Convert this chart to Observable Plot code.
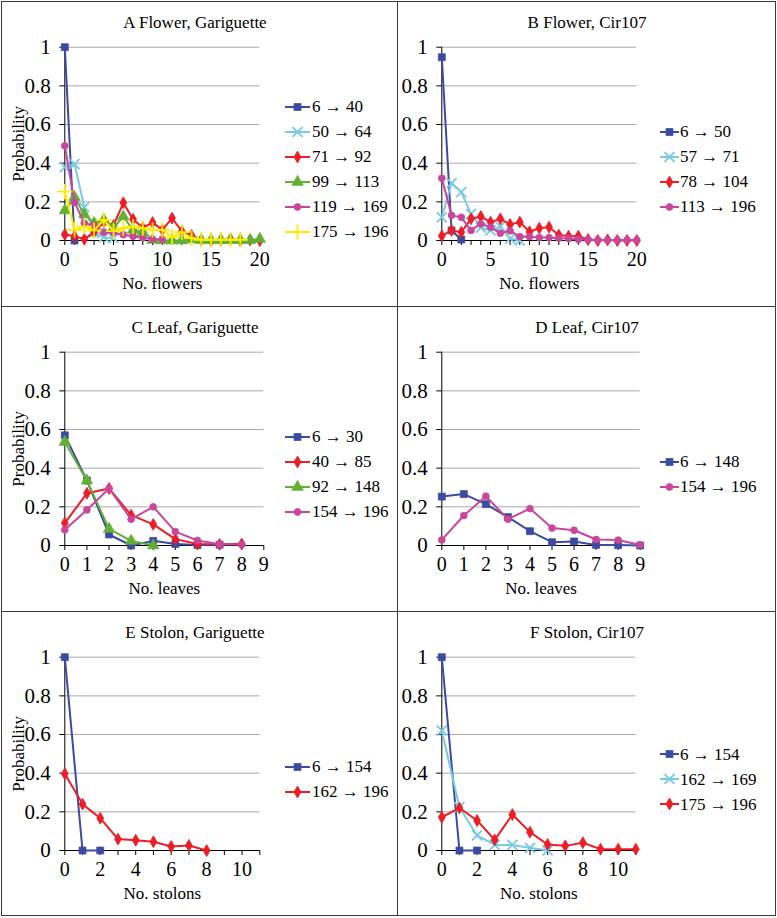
<!DOCTYPE html>
<html>
<head>
<meta charset="utf-8">
<script src="https://cdn.jsdelivr.net/npm/d3@7"></script>
<script src="https://cdn.jsdelivr.net/npm/@observablehq/plot@0.6"></script>
<style>
  html, body { margin: 0; padding: 0; background: #fff; }
  #page { position: relative; width: 777px; height: 918px; background: #fff; font-family: "Liberation Serif", "Times New Roman", serif; color: #000; }
  .bline { position: absolute; background: #3a3a3a; }
  .title { position: absolute; font-size: 17px; line-height: 1; white-space: nowrap; transform: translate(-50%, -50%); }
  .leg { position: absolute; display: flex; align-items: center; height: 18px; font-size: 17px; line-height: 1; white-space: nowrap; transform: translateY(-50%); }
  .leg svg { display: block; overflow: visible; }
  .chart { position: absolute; }
</style>
</head>
<body>
<div id="page"></div>
<script>
// ---------------- DATA ----------------
const yTicks = [0, 0.2, 0.4, 0.6, 0.8, 1];
const yGrid = [0.2, 0.4, 0.6, 0.8, 1];

const flowerLabelTicks = [0, 5, 10, 15, 20];
const leafLabelTicks = [0, 1, 2, 3, 4, 5, 6, 7, 8, 9];
const stolonLabelTicks = [0, 2, 4, 6, 8, 10];

// A Flower, Gariguette
const aLabels = ["6 → 40", "50 → 64", "71 → 92", "99 → 113", "119 → 169", "175 → 196"];
const aKinds = ["blue", "cyan", "red", "green", "magenta", "yellow"];
const aValues = [
  [1, 0],
  [0.38, 0.395, 0.172, 0.04, 0.017, 0.012],
  [0.031, 0.022, 0.007, 0.043, 0.095, 0.078, 0.195, 0.11, 0.066, 0.093, 0.055, 0.116, 0.048, 0.026, 0.003, 0, 0.003, 0.008, 0, 0.003, 0],
  [0.155, 0.224, 0.134, 0.09, 0.107, 0.066, 0.124, 0.055, 0.043, 0.003, 0, 0, 0, 0.005, 0.002, 0.002, 0.002, 0.002, 0.002, 0.002, 0.008],
  [0.49, 0.198, 0.09, 0.078, 0.043, 0.04, 0.03, 0.022, 0.014, 0.007, 0.007],
  [0.253, 0.055, 0.072, 0.052, 0.107, 0.048, 0.064, 0.072, 0.064, 0.055, 0.055, 0.017, 0.043, 0.012, 0.004, 0.004, 0.004, 0.004, 0.004]
];

// B Flower, Cir107
const bLabels = ["6 → 50", "57 → 71", "78 → 104", "113 → 196"];
const bKinds = ["blue", "cyan", "red", "magenta"];
const bValues = [
  [0.948, 0.052, 0.005],
  [0.12, 0.297, 0.25, 0.138, 0.066, 0.052, 0.072, 0.01, 0],
  [0.024, 0.052, 0.043, 0.112, 0.124, 0.095, 0.112, 0.083, 0.095, 0.045, 0.064, 0.069, 0.028, 0.022, 0.022, 0.005, 0, 0.003, 0, 0, 0],
  [0.322, 0.13, 0.12, 0.052, 0.086, 0.069, 0.038, 0.05, 0.02, 0.02, 0.015, 0.015, 0.012, 0.01, 0.005, 0.005, 0.002, 0.002, 0.002, 0.002, 0.002]
];

// C Leaf, Gariguette
const cLabels = ["6 → 30", "40 → 85", "92 → 148", "154 → 196"];
const cKinds = ["blue", "red", "green", "magenta"];
const cValues = [
  [0.57, 0.336, 0.057, 0, 0.024, 0.008, 0.002, 0.004],
  [0.116, 0.27, 0.295, 0.157, 0.109, 0.033, 0.008, 0.006, 0.008],
  [0.535, 0.336, 0.086, 0.024, 0],
  [0.081, 0.184, 0.295, 0.136, 0.2, 0.072, 0.026, 0.006, 0.005]
];

// D Leaf, Cir107
const dLabels = ["6 → 148", "154 → 196"];
const dKinds = ["blue", "magenta"];
const dValues = [
  [0.253, 0.266, 0.214, 0.147, 0.074, 0.017, 0.021, 0.003, 0.002, 0],
  [0.029, 0.155, 0.255, 0.136, 0.191, 0.09, 0.079, 0.031, 0.028, 0.003]
];

// E Stolon, Gariguette
const eLabels = ["6 → 154", "162 → 196"];
const eKinds = ["blue", "red"];
const eValues = [
  [1, 0, 0],
  [0.397, 0.24, 0.167, 0.059, 0.053, 0.045, 0.021, 0.026, 0]
];

// F Stolon, Cir107
const fLabels = ["6 → 154", "162 → 169", "175 → 196"];
const fKinds = ["blue", "cyan", "red"];
const fValues = [
  [1, 0, 0],
  [0.62, 0.224, 0.078, 0.029, 0.029, 0.014, 0],
  [0.172, 0.22, 0.155, 0.055, 0.186, 0.095, 0.031, 0.024, 0.04, 0.007, 0.007, 0.007]
];

// ---------------- STYLE / LAYOUT ----------------
const kindStyle = {
  blue:    {color: "#3C4BA2", symbol: "square",   d3sym: d3.symbolSquare,   r: 3.9, filled: true},
  cyan:    {color: "#78C9E4", symbol: "times",    d3sym: d3.symbolTimes,    r: 4.6, filled: false},
  red:     {color: "#EE1C25", symbol: "diamond",  d3sym: d3.symbolDiamond,  r: 3.6, filled: true},
  green:   {color: "#62B033", symbol: "triangle", d3sym: d3.symbolTriangle, r: 4.2, filled: true},
  magenta: {color: "#C9479B", symbol: "circle",   d3sym: d3.symbolCircle,   r: 3.4, filled: true},
  yellow:  {color: "#FFEC00", symbol: "plus",     d3sym: d3.symbolPlus,     r: 5.0, filled: false}
};

const panels = [
  {title: "A Flower, Gariguette", labels: aLabels, kinds: aKinds, values: aValues, xMax: 20, xLabelTicks: flowerLabelTicks, xLabel: "No. flowers", side: "left", row: 0, plotRight: 259.3},
  {title: "B Flower, Cir107", labels: bLabels, kinds: bKinds, values: bValues, xMax: 20, xLabelTicks: flowerLabelTicks, xLabel: "No. flowers", side: "right", row: 0, plotRight: 636.3},
  {title: "C Leaf, Gariguette", labels: cLabels, kinds: cKinds, values: cValues, xMax: 9, xLabelTicks: leafLabelTicks, xLabel: "No. leaves", side: "left", row: 1, plotRight: 263.3},
  {title: "D Leaf, Cir107", labels: dLabels, kinds: dKinds, values: dValues, xMax: 9, xLabelTicks: leafLabelTicks, xLabel: "No. leaves", side: "right", row: 1, plotRight: 639.7},
  {title: "E Stolon, Gariguette", labels: eLabels, kinds: eKinds, values: eValues, xMax: 11, xLabelTicks: stolonLabelTicks, xLabel: "No. stolons", side: "left", row: 2, plotRight: 259.3},
  {title: "F Stolon, Cir107", labels: fLabels, kinds: fKinds, values: fValues, xMax: 11, xLabelTicks: stolonLabelTicks, xLabel: "No. stolons", side: "right", row: 2, plotRight: 635.3}
];

const page = document.getElementById("page");
const ROW_H = 305;
const Y_TICK_FONT = 21;
const X_TICK_FONT = 20;
const SERIF = "'Liberation Serif', 'Times New Roman', serif";
const sideCfg = {
  left:  {svgLeft: 0,   svgWidth: 397, plotLeft: 64.3,  titleX: 195, legLineX: 285, legLineW: 25, legTextGap: 2},
  right: {svgLeft: 397, svgWidth: 378, plotLeft: 441.3, titleX: 587, legLineX: 660, legLineW: 19, legTextGap: 1}
};

// borders
function bline(x, y, w, h) {
  const d = document.createElement("div");
  d.className = "bline";
  Object.assign(d.style, {left: x + "px", top: y + "px", width: w + "px", height: h + "px"});
  page.appendChild(d);
}
bline(1, 1, 775, 1);
bline(1, 915, 775, 1);
bline(1, 1, 1, 915);
bline(775, 1, 1, 915);
bline(397, 1, 1, 915);
bline(1, 306, 775, 1);
bline(1, 611, 775, 1);

function makePlot(p) {
  const s = sideCfg[p.side];
  const marks = [
    Plot.ruleY(yGrid, {stroke: "#a9a9a9", strokeWidth: 1}),
    Plot.axisY({ticks: yTicks, tickSize: 5, tickFormat: () => "", label: null}),
    Plot.axisX({ticks: d3.range(0, p.xMax + 1), tickSize: 5, tickFormat: () => "", label: null}),
    Plot.text(yTicks, {y: d => d, text: d => String(d), frameAnchor: "left", dx: -14, textAnchor: "end", lineAnchor: "middle", fontSize: Y_TICK_FONT, ariaLabel: "ytick-text"}),
    Plot.text(p.xLabelTicks, {x: d => d, text: d => String(d), frameAnchor: "bottom", dy: 19.5, textAnchor: "middle", lineAnchor: "middle", fontSize: X_TICK_FONT, ariaLabel: "xtick-text"}),
    Plot.ruleX([0], {stroke: "#000", strokeWidth: 1}),
    Plot.ruleY([0], {stroke: "#000", strokeWidth: 1}),
    Plot.text([p.xLabel], {text: d => d, frameAnchor: "bottom", dy: 43.3, lineAnchor: "middle", textAnchor: "middle", fontSize: 17})
  ];
  if (p.side === "left") {
    marks.push(Plot.text(["Probability"], {text: d => d, frameAnchor: "left", rotate: -90, dx: -46.3, lineAnchor: "middle", textAnchor: "middle", fontSize: 17}));
  }
  p.values.forEach((vals, i) => {
    const st = kindStyle[p.kinds[i]];
    const pts = vals.map((v, x) => ({x, y: v}));
    marks.push(Plot.line(pts, {x: "x", y: "y", stroke: st.color, strokeWidth: 2, curve: "linear"}));
    if (st.filled) {
      marks.push(Plot.dot(pts, {x: "x", y: "y", symbol: st.symbol, r: st.r, fill: st.color, stroke: st.color, strokeWidth: 0.8}));
    } else {
      marks.push(Plot.dot(pts, {x: "x", y: "y", symbol: st.symbol, r: st.r, stroke: st.color, strokeWidth: 1.8, fill: "none"}));
    }
  });
  const svg = Plot.plot({
    width: s.svgWidth,
    height: ROW_H,
    marginLeft: s.plotLeft - s.svgLeft,
    marginRight: s.svgLeft + s.svgWidth - p.plotRight,
    marginTop: 46.7,
    marginBottom: 65,
    x: {domain: [0, p.xMax]},
    y: {domain: [0, 1]},
    style: {fontFamily: SERIF, fontSize: "17px", color: "#000", background: "transparent", overflow: "visible"},
    marks
  });
  svg.classList.add("chart");
  svg.style.left = s.svgLeft + "px";
  svg.style.top = (p.row * ROW_H) + "px";
  svg.querySelectorAll('g[aria-label="ytick-text"] text').forEach(t => { t.style.fontSize = Y_TICK_FONT + "px"; });
  svg.querySelectorAll('g[aria-label="xtick-text"] text').forEach(t => { t.style.fontSize = X_TICK_FONT + "px"; });
  page.appendChild(svg);

  // title
  const t = document.createElement("div");
  t.className = "title";
  t.textContent = p.title;
  t.style.left = s.titleX + "px";
  t.style.top = (p.row * ROW_H + 21.7) + "px";
  page.appendChild(t);

  // legend
  const n = p.labels.length;
  p.labels.forEach((lab, i) => {
    const st = kindStyle[p.kinds[i]];
    const row = document.createElement("div");
    row.className = "leg";
    row.style.left = s.legLineX + "px";
    row.style.top = (p.row * ROW_H + 169 - (n - 1) * 12.5 + i * 25) + "px";
    const sw = d3.create("svg").attr("width", s.legLineW).attr("height", 14);
    sw.append("line").attr("x1", 0).attr("x2", s.legLineW).attr("y1", 7).attr("y2", 7)
      .attr("stroke", st.color).attr("stroke-width", 2);
    sw.append("path")
      .attr("transform", `translate(${s.legLineW / 2},7)`)
      .attr("d", d3.symbol().type(st.d3sym).size(st.r * st.r * Math.PI)())
      .attr("fill", st.filled ? st.color : "none")
      .attr("stroke", st.color)
      .attr("stroke-width", st.filled ? 0.8 : 1.8);
    row.appendChild(sw.node());
    const tx = document.createElement("span");
    tx.textContent = lab;
    tx.style.marginLeft = s.legTextGap + "px";
    row.appendChild(tx);
    page.appendChild(row);
  });
}

panels.forEach(makePlot);
</script>
</body>
</html>
